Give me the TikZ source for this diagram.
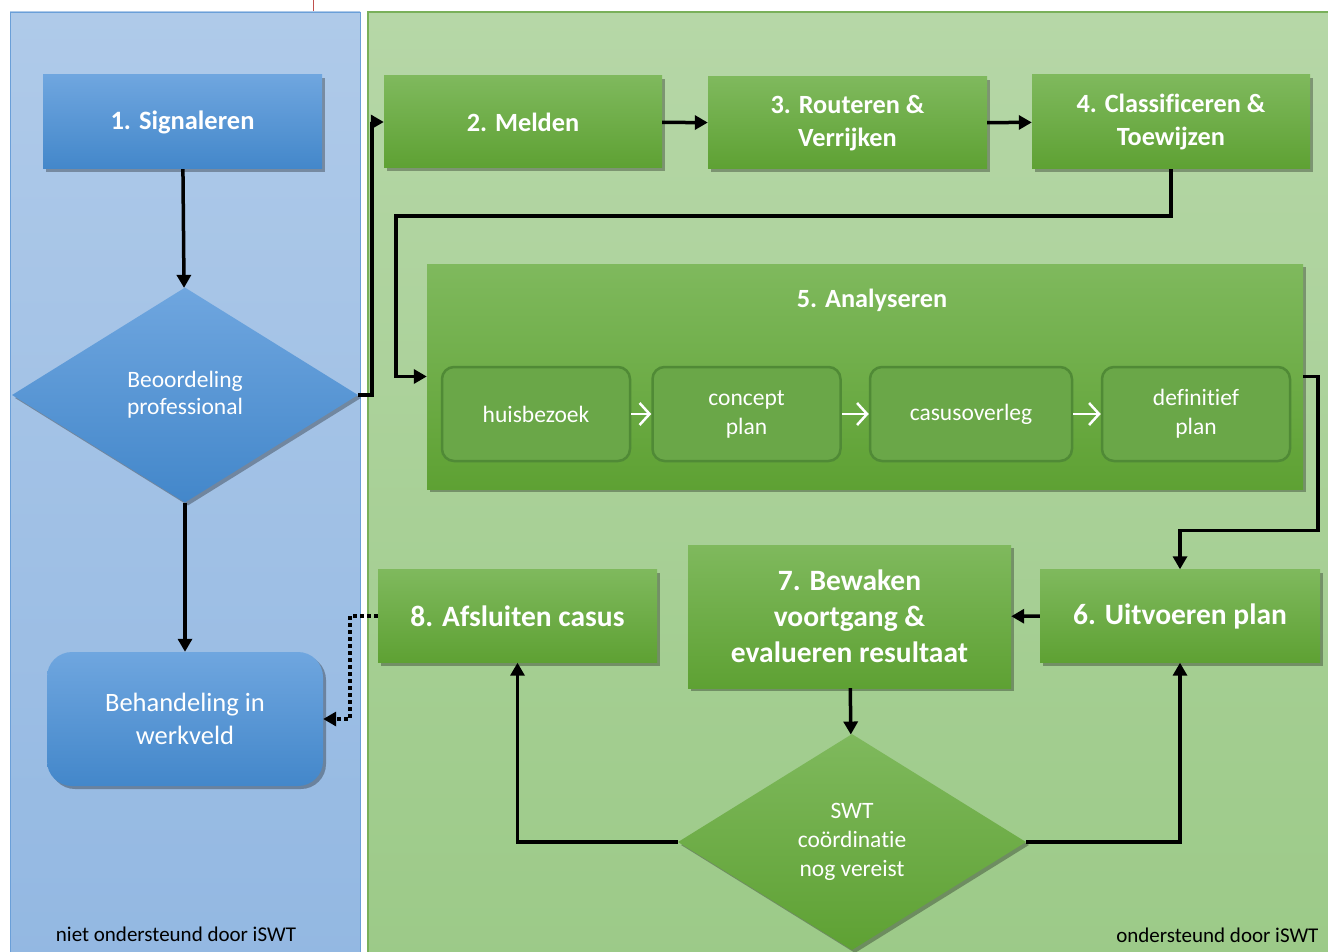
\documentclass[tikz,border=0pt]{standalone}
\usepackage{fontspec}
\setmainfont{Carlito}[Ligatures=NoCommon]
\usetikzlibrary{shapes.geometric,shadows,arrows.meta}

\definecolor{laneblueT}{HTML}{AFCAE9}
\definecolor{laneblueB}{HTML}{93B8E2}
\definecolor{laneblueL}{HTML}{6A9FD8}
\definecolor{lanegreenT}{HTML}{B6D7A7}
\definecolor{lanegreenB}{HTML}{9CCA88}
\definecolor{lanegreenL}{HTML}{79B05A}
\definecolor{boxblueT}{HTML}{6FA6DF}
\definecolor{boxblueB}{HTML}{4387CA}
\definecolor{boxgreenT}{HTML}{7FB95D}
\definecolor{boxgreenB}{HTML}{5EA133}
\definecolor{subgreen}{HTML}{6AA748}
\definecolor{subline}{HTML}{508A36}
\definecolor{pagered}{HTML}{C0504D}

\tikzset{
    shade/.style={drop shadow={shadow xshift=3pt, shadow yshift=-3pt, opacity=0.3, fill=black}},
    bluebox/.style={rectangle, top color=boxblueT, bottom color=boxblueB, text=white, shade, inner sep=0pt, align=center},
    greenbox/.style={rectangle, top color=boxgreenT, bottom color=boxgreenB, text=white, shade, inner sep=0pt, align=center},
    substep/.style={rectangle, rounded corners=12pt, fill=subgreen, draw=subline, line width=2.5pt, text=white,
        minimum width=188pt, minimum height=94pt, align=center, font=\fontsize{23.5}{29}\selectfont},
    flow/.style={line width=3.5pt, -{Triangle[length=13pt,width=14pt]}},
    subflow/.style={line width=2.5pt, draw=white, -{Straight Barb[length=10pt,width=22pt]}}
}

\begin{document}
\begin{tikzpicture}[x=1pt, y=-1pt]
        \useasboundingbox (0,0) rectangle (1328,952);
        % lanes
        \draw[pagered, line width=1pt] (313,0) -- (313,12);
        \draw[laneblueL, top color=laneblueT, bottom color=laneblueB] (10,12) rectangle (360,962);
        \draw[lanegreenL, line width=1.2pt, top color=lanegreenT, bottom color=lanegreenB] (368,12) rectangle (1340,962);
        \node (l0) [anchor=center, font=\fontsize{21}{24}\selectfont] at (176,934) {niet ondersteund door iSWT};
        \node (l1) [anchor=east, font=\fontsize{21}{24}\selectfont] at (1322,935) {ondersteund door iSWT};

        \begin{scope}[every node/.style={bluebox}]
            \node (S1) [minimum width=279pt, minimum height=94pt, font=\fontsize{26.5}{30}\selectfont\bfseries] at (182.5,122) {1. Signaleren};
            \node (D1) [diamond, minimum width=346pt, minimum height=215pt, font=\fontsize{23.5}{27}\selectfont] at (185,395) {Beoordeling\\professional};
            \node (B1) [rounded corners=25pt, minimum width=276pt, minimum height=134pt, font=\fontsize{26.5}{33}\selectfont] at (185,719) {Behandeling in\\werkveld};
        \end{scope}

        \begin{scope}[every node/.style={greenbox, font=\fontsize{26.3}{33}\selectfont\bfseries}]
            \node (S2) [minimum width=278pt, minimum height=92pt] at (523,122) {2. Melden};
            \node (S3) [minimum width=279pt, minimum height=92pt] at (847.5,123) {3. Routeren \&\\Verrijken};
            \node (S4) [minimum width=278pt, minimum height=94pt] at (1171,122) {4. Classificeren \&\\Toewijzen};
            \node (S5) [minimum width=876pt, minimum height=225pt] at (865,376.5) {};
            \node (S6) [minimum width=280pt, minimum height=93pt, font=\fontsize{29.5}{36}\selectfont\bfseries] at (1180,616) {6. Uitvoeren plan};
            \node (S7) [minimum width=323pt, minimum height=143pt, font=\fontsize{29.5}{36}\selectfont\bfseries] at (849.5,616.5) {7. Bewaken\\voortgang \&\\evalueren resultaat};
            \node (S8) [minimum width=279pt, minimum height=93pt, font=\fontsize{29.5}{36}\selectfont\bfseries] at (517.5,616) {8. Afsluiten casus};
            \node (D2) [diamond, minimum width=348pt, minimum height=216pt, font=\fontsize{23.5}{29}\selectfont] at (852,842) {SWT\\co\"ordinatie\\nog vereist};
        \end{scope}
        \node (t5) [text=white, font=\fontsize{26.3}{30}\selectfont\bfseries] at (872,300) {5. Analyseren};

        \begin{scope}[every node/.style={substep}]
            \node (A1) at (536,414) {huisbezoek};
            \node (A2) at (746.5,414) {concept\\plan};
            \node (A3) [minimum width=202pt] at (971,414) {casusoverleg};
            \node (A4) at (1196,414) {definitief\\plan};
        \end{scope}
        \path [subflow] (A1) edge (A2);
        \path [subflow] (A2) edge (A3);
        \path [subflow] (A3) edge (A4);

        \path [flow] (S1) edge (D1);
        \path [flow] (D1) edge (B1);
        \draw [flow] (D1.east) -- ++(14,0) |- (S2.west);
        \path [flow] (S2) edge (S3);
        \path [flow] (S3) edge (S4);
        \draw [flow] (S4.south) -- ++(0,47) -| ([xshift=-31pt]S5.west) -- (S5.west);
        \draw [flow] (S5.east) -- ++(15,0) |- ([yshift=39pt]S6.north) -- (S6.north);
        \path [flow] (S6) edge (S7);
        \path [flow] (S7) edge (D2);
        \draw [flow] (D2.west) -| (S8.south);
        \draw [flow] (D2.east) -| (S6.south);
        \draw [flow, dash pattern=on 3.5pt off 3.5pt] (S8.west) -- ++(-28,0) |- (B1.east);
    \end{tikzpicture}
\end{document}
